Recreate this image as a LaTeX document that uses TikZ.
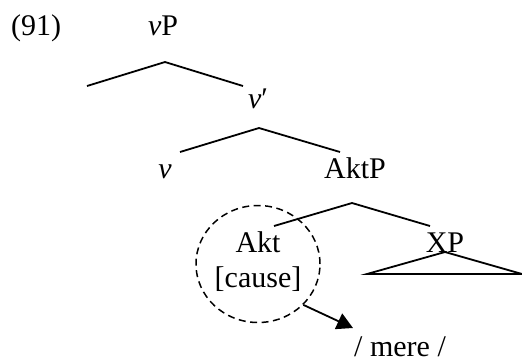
\documentclass[tikz,border=0pt]{standalone}
\usepackage{fontspec}
\setmainfont{Liberation Serif}
\usetikzlibrary{arrows.meta,shapes.geometric}
\begin{document}
\begin{tikzpicture}[x=1pt,y=-1pt,
  lab/.style={font=\fontsize{30}{34}\selectfont, inner sep=0pt, anchor=base},
  branch/.style={line width=1.8pt},
  ring/.style={draw, ellipse, line width=1.5pt, minimum width=124pt, minimum height=117pt,
    inner sep=0pt, dash pattern=on 7pt off 4.5pt},
  pointer/.style={line width=1.8pt, -{Triangle[length=16pt,width=17pt]}}]
\useasboundingbox (0,0) rectangle (522,360);

% labels
\node[lab] (ex)   at (36,35)  {(91)};
\node[lab] (vP)   at (163,35) {\textit{v}P};
\node[lab] (vbar) at (258,108) {\textit{v}′};
\node[lab] (v)    at (165,178) {\textit{v}};
\node[lab] (AktP) at (355,178) {AktP};
\node[lab] (Akt)  at (258,252) {Akt};
\node[lab] (cause) at (258,287) {[cause]};
\node[lab] (XP)   at (445,252) {XP};
\node[lab] (mere) at (400,356) {/ mere /};

% branch points
\coordinate (vPtop) at (165,62);
\coordinate (vPl) at (87,86);
\coordinate (vPr) at (243,86);
\coordinate (vbtop) at (259,128);
\coordinate (vbl) at (180,152);
\coordinate (vbr) at (340,152);
\coordinate (aktop) at (352,203);
\coordinate (akl) at (274,226);
\coordinate (akr) at (430,226);
\coordinate (xptop) at (445,252);
\coordinate (xpl) at (367,274);
\coordinate (xpr) at (522,274);

\draw[branch] (vPl) -- (vPtop) -- (vPr);
\draw[branch] (vbl) -- (vbtop) -- (vbr);
\draw[branch] (akl) -- (aktop) -- (akr);
\draw[branch, line join=miter] (xpl) -- (xptop) -- (xpr) -- cycle;

% dashed ring round the head and the arrow to its exponent
\node[ring] (head) at (258,264) {};
\coordinate (tip) at (353,328);
\draw[pointer] (head.-42) -- (tip);
\end{tikzpicture}
\end{document}
